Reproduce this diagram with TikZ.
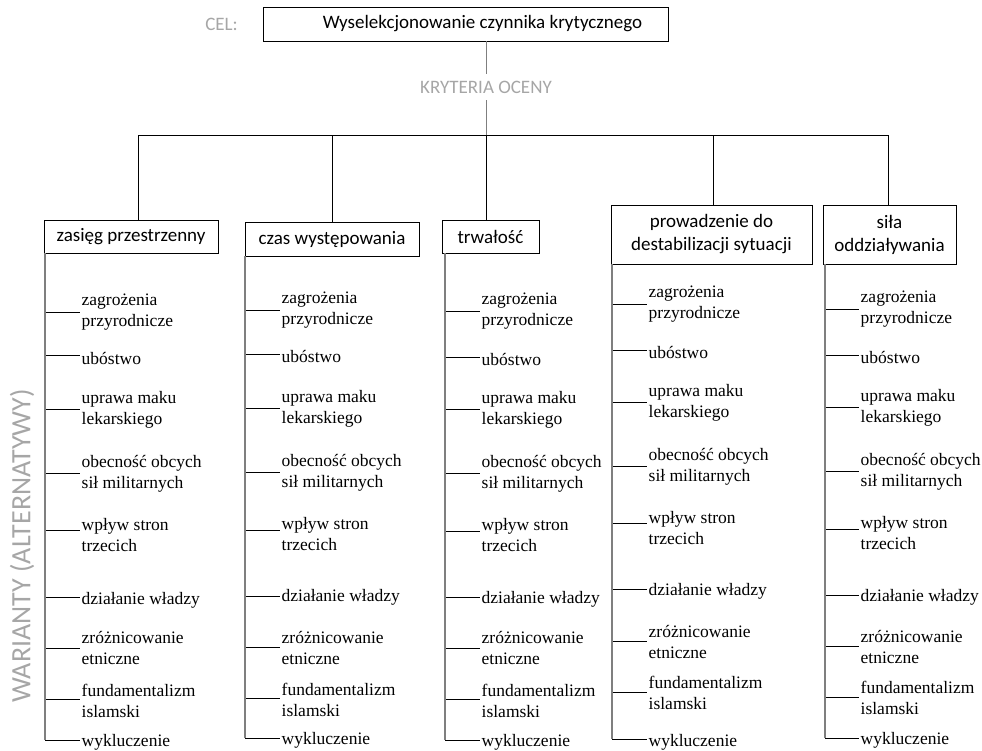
\documentclass[tikz,border=0pt]{standalone}
\usepackage{fontspec}
\setmainfont{Liberation Serif}
\newfontfamily\hdfont{Carlito}
\definecolor{lbl}{HTML}{A6A6A6}
\definecolor{vline}{HTML}{7F7F7F}
\tikzset{
  hbox/.style={draw=black, line width=0.9pt, font=\hdfont\fontsize{19}{23}\selectfont, align=center, inner sep=0pt},
  glabel/.style={text=lbl, font=\hdfont\fontsize{19}{22}\selectfont, inner sep=0pt},
  itm/.style={font=\fontsize{17.5}{21}\selectfont, align=left, inner xsep=1.5pt, inner ysep=0pt, anchor=west},
  tick/.style={draw=black, line width=0.8pt},
  col/.style={draw=vline, line width=1.6pt},
  conn/.style={draw=black, line width=0.8pt},
  gconn/.style={draw=vline, line width=1pt},
}
\newcommand\Itm[6]{%
  \node[itm] (#1) at (#4,#5) {#6};
  \coordinate (#1t) at (#2,#3);
  \draw[tick] (#1t) -- (#1t -| #1.west);}
\newcommand\Column[4]{% prefix, linex, textx, list of name/ticky/texty/text
  \foreach \nm/\ty/\tx/\txt in {#4} {
    \Itm{#1\nm}{#2}{\ty}{#3}{\tx}{\txt}
  }}
\begin{document}
\begin{tikzpicture}[x=1pt,y=-1pt]
\useasboundingbox (0,0) rectangle (982,750);
% goal
\node[hbox, minimum width=405pt, minimum height=34pt] (goal) at (465.5,24) {\hspace*{34pt}Wyselekcjonowanie czynnika krytycznego};
\node[glabel, anchor=east] (cel) at (238,24) {CEL:};
\node[glabel] (kryt) at (486,87) {KRYTERIA OCENY};
\coordinate (hub) at (486,135);
\draw[gconn] (goal.south -| kryt.north) -- ([yshift=7pt]kryt.north);
\draw[gconn] ([yshift=-7pt]kryt.south) -- (hub);
% criteria boxes
\node[hbox, minimum width=174pt, minimum height=33pt] (c1) at (131,236.5) {zasięg przestrzenny};
\node[hbox, minimum width=174pt, minimum height=34pt] (c2) at (332,239) {czas występowania};
\node[hbox, minimum width=97pt, minimum height=33pt] (c3) at (490.5,236.5) {trwałość};
\node[hbox, minimum width=201pt, minimum height=59pt] (c4) at (711.5,234.5) {prowadzenie do\\destabilizacji sytuacji};
\node[hbox, minimum width=133pt, minimum height=59pt] (c5) at (889.5,234.5) {siła\\oddziaływania};
% tree
\coordinate (h1) at (138,135);
\coordinate (h4) at (713,135);
\coordinate (h5) at (888,135);
\draw[conn] (h1) -- (h5);
\draw[conn] (h1) -- (c1.north -| h1);
\draw[conn] (c2.north |- hub) -- (c2.north);
\draw[conn] (hub) -- (c3.north -| hub);
\draw[conn] (h4) -- (c4.north -| h4);
\draw[conn] (h5) -- (c5.north -| h5);
% vertical label
\node[glabel, rotate=90, font=\hdfont\fontsize{28}{32}\selectfont] (war) at (22,546) {WARIANTY (ALTERNATYWY)};
% column 1
\Column{a}{45}{80}{z/312/312/{zagrożenia\\przyrodnicze}, u/355/358/ubóstwo, up/409/410/{uprawa maku\\lekarskiego}, o/473/473.5/{obecność obcych\\sił militarnych}, w/530/535.5/{wpływ stron\\trzecich}, d/597/600/działanie władzy, r/648/647.5/{zróżnicowanie\\etniczne}, f/699/700.5/{fundamentalizm\\islamski}, k/740/742/wykluczenie}
% column 2
\Column{b}{245}{280}{z/310/310.5/{zagrożenia\\przyrodnicze}, u/354/356/ubóstwo, up/408/408.5/{uprawa maku\\lekarskiego}, o/472/472.5/{obecność obcych\\sił militarnych}, w/530/534.5/{wpływ stron\\trzecich}, d/596/597/działanie władzy, r/647/647.5/{zróżnicowanie\\etniczne}, f/698/699.5/{fundamentalizm\\islamski}, k/738/740/wykluczenie}
% column 3
\Column{c}{445}{480}{z/311/311.5/{zagrożenia\\przyrodnicze}, u/357/359/ubóstwo, up/409/409.5/{uprawa maku\\lekarskiego}, o/473/473.5/{obecność obcych\\sił militarnych}, w/531/535.5/{wpływ stron\\trzecich}, d/597/599/działanie władzy, r/648/647.5/{zróżnicowanie\\etniczne}, f/699/700.5/{fundamentalizm\\islamski}, k/740/742/wykluczenie}
% column 4
\Column{d}{612}{647}{z/304/304.5/{zagrożenia\\przyrodnicze}, u/350/352/ubóstwo, up/402/402.5/{uprawa maku\\lekarskiego}, o/466/466.5/{obecność obcych\\sił militarnych}, w/523/528.5/{wpływ stron\\trzecich}, d/589/591/działanie władzy, r/641/641.5/{zróżnicowanie\\etniczne}, f/692/692.5/{fundamentalizm\\islamski}, k/739/742/wykluczenie}
% column 5
\Column{e}{825}{859}{z/309/309.5/{zagrożenia\\przyrodnicze}, u/355/357/ubóstwo, up/407/407.5/{uprawa maku\\lekarskiego}, o/471/471.5/{obecność obcych\\sił militarnych}, w/529/533.5/{wpływ stron\\trzecich}, d/595/597/działanie władzy, r/646/646.5/{zróżnicowanie\\etniczne}, f/697/697.5/{fundamentalizm\\islamski}, k/738/740/wykluczenie}
% column lines
\draw[col] (c1.south west -| akt) -- (akt);
\draw[col] (c2.south west -| bkt) -- (bkt);
\draw[col] (c3.south west -| ckt) -- (ckt);
\draw[col] (c4.south west -| dkt) -- (dkt);
\draw[col] (c5.south west -| ekt) -- (ekt);
\end{tikzpicture}
\end{document}
